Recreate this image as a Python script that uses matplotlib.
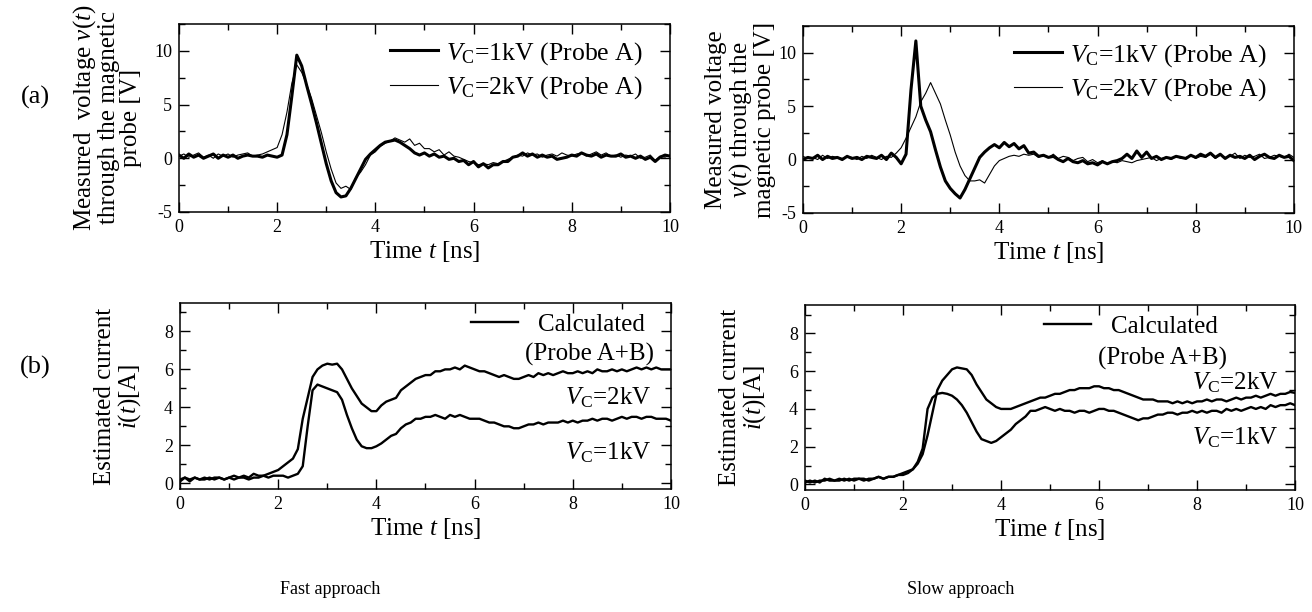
import matplotlib
matplotlib.use("Agg")
import matplotlib.pyplot as plt
import numpy as np
from matplotlib.ticker import MultipleLocator
from matplotlib.lines import Line2D

plt.rcParams['font.family'] = 'Liberation Serif'
plt.rcParams['mathtext.fontset'] = 'custom'
plt.rcParams['mathtext.rm'] = 'Liberation Serif'
plt.rcParams['mathtext.it'] = 'Liberation Serif:italic'
plt.rcParams['axes.unicode_minus'] = False

# sample times [ns], 0.1 ns step
t = np.round(np.arange(0, 10.05, 0.1), 1)

# (a) measured voltage, fast approach
fast_v_1kV = [0.3, 0.0, 0.4, 0.1, 0.3, 0.0, 0.2, 0.4, 0.0, 0.3,
              0.1, 0.3, 0.0, 0.2, 0.3, 0.2, 0.2, 0.1, 0.3, 0.2,
              0.1, 0.3, 2.2, 5.8, 9.6, 8.6, 6.8, 5.1, 3.3, 1.4,
              -0.5, -2.1, -3.2, -3.6, -3.5, -2.8, -1.9, -1.0, -0.1, 0.4,
              0.8, 1.2, 1.5, 1.6, 1.7, 1.5, 1.2, 0.9, 0.5, 0.3,
              0.5, 0.2, 0.4, 0.1, 0.2, -0.1, 0.0, -0.3, -0.2, -0.6,
              -0.3, -0.8, -0.5, -0.9, -0.6, -0.6, -0.3, -0.3, 0.1, 0.2,
              0.5, 0.2, 0.4, 0.1, 0.3, 0.1, 0.2, -0.1, 0.0, 0.1,
              0.3, 0.2, 0.5, 0.3, 0.2, 0.4, 0.1, 0.3, 0.2, 0.2,
              0.4, 0.1, 0.2, 0.0, 0.2, -0.1, 0.1, -0.3, 0.1, 0.3,
              0.2]
fast_v_2kV = [0.2, 0.4, 0.1, 0.3, 0.5, 0.1, 0.3, 0.0, 0.4, 0.2,
              0.4, 0.1, 0.3, 0.4, 0.5, 0.2, 0.3, 0.4, 0.6, 0.8,
              1.0, 2.2, 4.3, 7.0, 8.7, 8.0, 6.9, 5.6, 4.0, 2.4,
              0.6, -1.0, -2.3, -2.8, -2.6, -2.9, -1.8, -1.3, -0.6, 0.3,
              0.6, 1.1, 1.4, 1.6, 1.9, 1.7, 1.5, 1.8, 1.2, 1.4,
              0.9, 0.9, 0.6, 0.8, 0.3, 0.6, 0.2, 0.1, -0.1, -0.3,
              -0.4, -0.6, -0.5, -0.6, -0.4, -0.5, -0.3, -0.1, 0.1, 0.3,
              0.2, 0.5, 0.3, 0.4, 0.1, 0.3, 0.4, 0.2, 0.5, 0.3,
              0.2, 0.4, 0.5, 0.2, 0.4, 0.6, 0.3, 0.5, 0.2, 0.3,
              0.1, 0.3, 0.2, 0.4, 0.0, 0.1, 0.3, -0.2, 0.2, 0.1,
              0.3]

# (a) measured voltage, slow approach
slow_v_1kV = [0.0, 0.2, 0.1, 0.4, 0.0, 0.3, 0.1, 0.2, 0.0, 0.3,
              0.1, 0.2, 0.0, 0.3, 0.2, 0.1, 0.4, 0.0, 0.6, 0.2,
              -0.4, 0.5, 6.5, 11.1, 5.0, 3.7, 2.6, 0.9, -0.7, -2.0,
              -2.7, -3.2, -3.6, -2.8, -1.8, -0.8, 0.2, 0.7, 1.1, 1.4,
              1.1, 1.6, 1.2, 1.5, 1.0, 1.3, 0.6, 0.7, 0.3, 0.4,
              0.2, 0.3, 0.0, -0.2, 0.1, -0.2, -0.3, -0.1, -0.4, -0.3,
              -0.5, -0.2, -0.4, -0.2, -0.1, 0.1, 0.5, 0.1, 0.8, 0.2,
              0.7, 0.1, 0.3, 0.0, 0.2, 0.1, 0.3, 0.2, 0.1, 0.4,
              0.2, 0.5, 0.3, 0.6, 0.2, 0.5, 0.1, 0.4, 0.2, 0.3,
              0.1, 0.4, 0.0, 0.3, 0.5, 0.2, 0.1, 0.4, 0.2, 0.3,
              -0.1]
slow_v_2kV = [0.3, 0.1, 0.2, 0.0, 0.4, 0.1, 0.3, 0.2, 0.1, 0.3,
              0.2, 0.0, 0.3, 0.1, 0.4, 0.2, 0.0, 0.3, 0.2, 0.6,
              1.1, 2.0, 3.0, 4.0, 5.4, 6.2, 7.2, 6.2, 5.2, 3.7,
              2.3, 0.7, -0.6, -1.5, -2.0, -2.0, -1.9, -2.2, -1.4, -0.6,
              -0.1, 0.1, 0.3, 0.4, 0.3, 0.5, 0.4, 0.5, 0.2, 0.4,
              0.2, 0.5, 0.1, 0.3, 0.2, -0.1, 0.1, 0.2, -0.2, 0.0,
              -0.3, -0.1, -0.4, -0.2, -0.3, -0.1, -0.2, -0.3, -0.1, 0.0,
              0.1, 0.2, -0.1, 0.1, 0.2, 0.0, 0.3, 0.1, 0.2, 0.4,
              0.1, 0.3, 0.2, 0.5, 0.1, 0.4, 0.2, 0.3, 0.6, 0.1,
              0.4, 0.2, 0.3, 0.5, 0.1, 0.2, 0.4, 0.3, 0.2, 0.5,
              0.2]

# (b) estimated current, fast approach
fast_i_2kV = [0.1, 0.3, 0.2, 0.3, 0.2, 0.3, 0.2, 0.3, 0.3, 0.2,
              0.3, 0.4, 0.3, 0.4, 0.3, 0.5, 0.4, 0.4, 0.5, 0.6,
              0.7, 0.9, 1.1, 1.3, 1.8, 3.4, 4.5, 5.6, 6.0, 6.2,
              6.3, 6.25, 6.3, 6.0, 5.5, 5.0, 4.6, 4.2, 4.0, 3.8,
              3.8, 4.1, 4.3, 4.4, 4.5, 4.9, 5.1, 5.3, 5.5, 5.6,
              5.7, 5.7, 5.9, 5.9, 6.0, 6.0, 6.1, 6.0, 6.2, 6.1,
              6.0, 5.9, 5.9, 5.8, 5.7, 5.6, 5.7, 5.6, 5.5, 5.5,
              5.6, 5.7, 5.6, 5.8, 5.7, 5.8, 5.7, 5.8, 5.9, 5.8,
              5.8, 5.9, 5.8, 5.9, 5.8, 6.0, 5.9, 5.9, 6.0, 5.9,
              6.0, 5.9, 6.0, 6.1, 6.0, 6.1, 6.0, 6.1, 6.0, 6.0,
              6.0]
fast_i_1kV = [0.2, 0.3, 0.1, 0.3, 0.2, 0.2, 0.3, 0.2, 0.3, 0.2,
              0.3, 0.2, 0.3, 0.3, 0.2, 0.3, 0.3, 0.4, 0.3, 0.4,
              0.4, 0.4, 0.3, 0.4, 0.5, 0.9, 3.0, 4.9, 5.2, 5.1,
              5.0, 4.9, 4.8, 4.4, 3.6, 2.9, 2.3, 1.95, 1.85, 1.85,
              1.95, 2.1, 2.3, 2.5, 2.6, 2.9, 3.1, 3.2, 3.4, 3.4,
              3.5, 3.5, 3.6, 3.5, 3.4, 3.6, 3.5, 3.6, 3.5, 3.4,
              3.4, 3.4, 3.3, 3.2, 3.2, 3.1, 3.0, 3.0, 2.9, 2.9,
              3.0, 3.1, 3.1, 3.2, 3.1, 3.2, 3.2, 3.2, 3.3, 3.2,
              3.3, 3.2, 3.3, 3.3, 3.4, 3.3, 3.4, 3.4, 3.3, 3.4,
              3.5, 3.4, 3.5, 3.5, 3.4, 3.5, 3.5, 3.4, 3.4, 3.4,
              3.3]

# (b) estimated current, slow approach
slow_i_2kV = [0.1, 0.2, 0.1, 0.2, 0.2, 0.3, 0.2, 0.2, 0.3, 0.2,
              0.3, 0.3, 0.2, 0.3, 0.3, 0.4, 0.3, 0.4, 0.4, 0.5,
              0.6, 0.7, 0.8, 1.1, 1.6, 2.6, 3.8, 5.0, 5.5, 5.8,
              6.1, 6.2, 6.15, 6.1, 5.8, 5.3, 4.9, 4.5, 4.3, 4.1,
              4.0, 4.0, 4.0, 4.1, 4.2, 4.3, 4.4, 4.5, 4.6, 4.6,
              4.7, 4.8, 4.8, 4.9, 5.0, 5.0, 5.1, 5.1, 5.1, 5.2,
              5.2, 5.1, 5.1, 5.0, 5.0, 4.9, 4.8, 4.7, 4.6, 4.5,
              4.5, 4.5, 4.4, 4.4, 4.4, 4.3, 4.4, 4.3, 4.4, 4.3,
              4.4, 4.4, 4.5, 4.4, 4.5, 4.5, 4.4, 4.5, 4.6, 4.5,
              4.6, 4.6, 4.7, 4.6, 4.7, 4.8, 4.7, 4.8, 4.8, 4.9,
              4.85]
slow_i_1kV = [0.2, 0.1, 0.2, 0.1, 0.3, 0.2, 0.2, 0.3, 0.2, 0.3,
              0.2, 0.3, 0.3, 0.2, 0.3, 0.4, 0.3, 0.4, 0.4, 0.5,
              0.5, 0.6, 0.8, 1.2, 1.9, 4.0, 4.6, 4.8, 4.85, 4.8,
              4.7, 4.5, 4.2, 3.8, 3.3, 2.8, 2.4, 2.3, 2.2, 2.3,
              2.5, 2.7, 2.9, 3.2, 3.4, 3.6, 3.9, 3.9, 4.0, 4.1,
              4.0, 3.9, 4.0, 3.9, 3.9, 3.8, 3.9, 3.9, 3.8, 3.9,
              4.0, 4.0, 3.9, 3.9, 3.8, 3.7, 3.6, 3.5, 3.4, 3.5,
              3.5, 3.6, 3.7, 3.7, 3.8, 3.8, 3.7, 3.8, 3.8, 3.9,
              3.8, 3.9, 3.8, 3.9, 3.9, 3.8, 4.0, 3.9, 4.0, 3.9,
              4.0, 4.1, 4.0, 4.1, 4.0, 4.2, 4.1, 4.2, 4.2, 4.3,
              4.2]

vlabel_1kV = r'$V_{\rm C}$=1kV (Probe A)'
vlabel_2kV = r'$V_{\rm C}$=2kV (Probe A)'


def style(ax, ymaj, ymin, ylim):
    ax.set_xlim(0, 10)
    ax.set_ylim(*ylim)
    ax.xaxis.set_major_locator(MultipleLocator(2))
    ax.xaxis.set_minor_locator(MultipleLocator(1))
    ax.yaxis.set_major_locator(MultipleLocator(ymaj))
    ax.yaxis.set_minor_locator(MultipleLocator(ymin))
    ax.tick_params(which='both', direction='in', top=True, right=True,
                   labelsize=13, width=1, pad=5)
    ax.tick_params(which='major', length=7)
    ax.tick_params(which='minor', length=4.5)
    for s in ax.spines.values():
        s.set_linewidth(1.1)
    ax.set_xlabel('Time $t$ [ns]', fontsize=18, labelpad=2)


fig = plt.figure(figsize=(13.12, 6.12), dpi=100)
ax1 = fig.add_axes([0.1364, 0.6536, 0.3742, 0.3072])
ax2 = fig.add_axes([0.6120, 0.6520, 0.3742, 0.3056])
ax3 = fig.add_axes([0.1372, 0.2010, 0.3742, 0.3040])
ax4 = fig.add_axes([0.6136, 0.1993, 0.3735, 0.3020])

# top row
for ax, v1, v2 in [(ax1, fast_v_1kV, fast_v_2kV), (ax2, slow_v_1kV, slow_v_2kV)]:
    ax.plot(t, v1, color='k', lw=2.2, label=vlabel_1kV)
    ax.plot(t, v2, color='k', lw=0.8, label=vlabel_2kV)
    style(ax, 5, 2.5, (-5, 12.5))
    ax.legend(loc='upper right', bbox_to_anchor=(0.945, 0.915), frameon=False,
              fontsize=18.5, handlelength=1.9, handletextpad=0.3,
              labelspacing=0.3, borderpad=0, borderaxespad=0)

ax1.set_ylabel('Measured  voltage $v(t)$\nthrough the magnetic\nprobe [V]',
               fontsize=18, linespacing=1.0)
ax2.set_ylabel('Measured voltage\n$v(t)$ through the\nmagnetic probe [V]',
               fontsize=18, linespacing=1.0)
ax1.yaxis.set_label_coords(-0.075, 0.5)
ax2.yaxis.set_label_coords(-0.055, 0.5)

# bottom row
calc_anchor = {ax3: (0.947, 0.945), ax4: (0.843, 0.945)}
for ax, i2, i1 in [(ax3, fast_i_2kV, fast_i_1kV), (ax4, slow_i_2kV, slow_i_1kV)]:
    ax.plot(t, i2, color='k', lw=1.7)
    ax.plot(t, i1, color='k', lw=1.7)
    style(ax, 2, 1, (-0.3, 9.5))
    ax.set_ylabel('Estimated current\n$i(t)$[A]', fontsize=18, linespacing=1.0)
    ax.yaxis.set_label_coords(-0.075, 0.5)
    ax.legend([Line2D([], [], color='k', lw=1.7)], ['Calculated'],
              loc='upper right', bbox_to_anchor=calc_anchor[ax], frameon=False,
              fontsize=18, handlelength=1.9, handletextpad=0.8,
              borderpad=0, borderaxespad=0)

ax3.text(8.35, 6.8, '(Probe A+B)', fontsize=18, ha='center', va='center')
ax3.text(9.6, 4.5, r'$V_{\rm C}$=2kV', fontsize=18, ha='right', va='center')
ax3.text(9.6, 1.6, r'$V_{\rm C}$=1kV', fontsize=18, ha='right', va='center')

ax4.text(7.3, 6.7, '(Probe A+B)', fontsize=18, ha='center', va='center')
ax4.text(9.65, 5.4, r'$V_{\rm C}$=2kV', fontsize=18, ha='right', va='center')
ax4.text(9.65, 2.5, r'$V_{\rm C}$=1kV', fontsize=18, ha='right', va='center')

fig.text(0.027, 0.84, '(a)', fontsize=19, ha='center', va='center')
fig.text(0.027, 0.40, '(b)', fontsize=19, ha='center', va='center')
fig.text(0.252, 0.036, 'Fast approach', fontsize=13, ha='center', va='center')
fig.text(0.732, 0.036, 'Slow approach', fontsize=13, ha='center', va='center')

fig.savefig('out.png', dpi=100)
